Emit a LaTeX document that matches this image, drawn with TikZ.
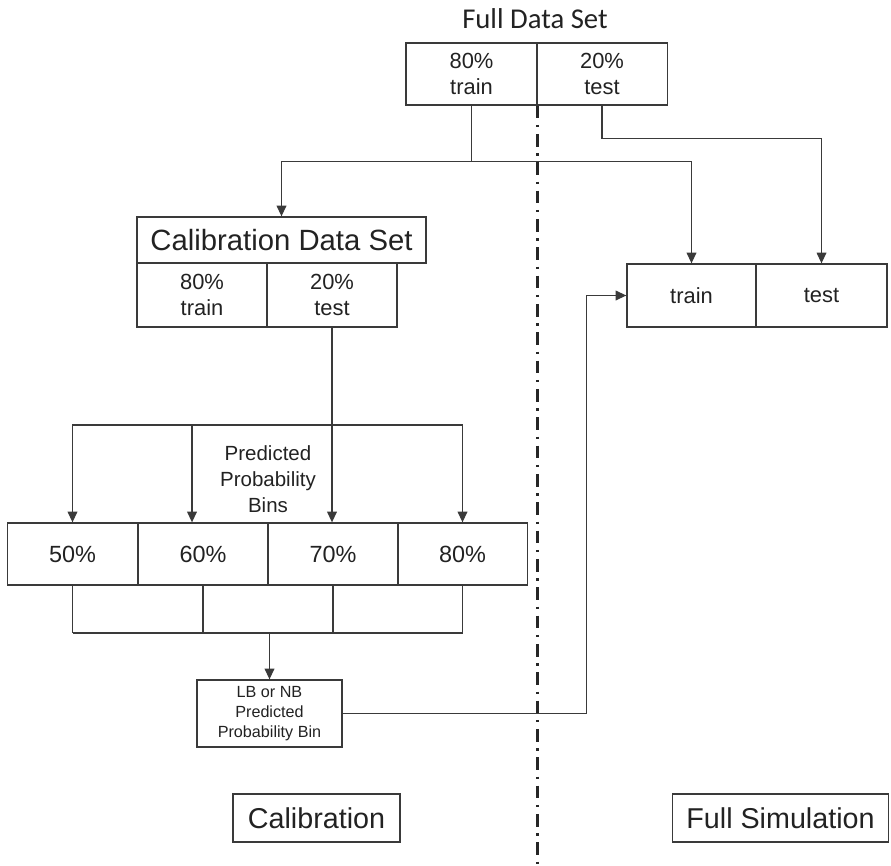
\documentclass[tikz,border=0pt]{standalone}
\usepackage{fontspec}
\setmainfont{Liberation Sans}
\newfontfamily\arialfont{Liberation Sans}
\newfontfamily\calibrifont{Carlito}
\usetikzlibrary{arrows.meta,calc}
\definecolor{linec}{HTML}{3A3A3A}
\definecolor{textc}{HTML}{222222}
\tikzset{
    cell/.style={draw=linec, line width=1.1pt, inner sep=0pt, align=center, text=textc, font=\arialfont\fontsize{18.7}{22.5}\selectfont},
    conn/.style={draw=linec, line width=1.1pt},
    arr/.style={conn, -{Triangle[length=3.2mm, width=2.9mm]}},
    titletext/.style={text=textc, font=\calibrifont\fontsize{24.5}{29}\selectfont},
    divider/.style={draw=black!85, line width=2.2pt, dash pattern=on 0.38cm off 0.2cm on 0.07cm off 0.2cm}
}
\begin{document}
\begin{tikzpicture}
\useasboundingbox (0,0) rectangle (26.73,-25.95);

% Full data set
\node[titletext] (full) at (16.05,-0.57) {Full Data Set};
\node[cell, minimum width=3.93cm, minimum height=1.86cm] (ftrain) at (14.145,-2.22) {80\%\\train};
\node[cell, minimum width=3.93cm, minimum height=1.86cm] (ftest)  at (18.06,-2.22)  {20\%\\test};

% Calibration data set
\node[cell, minimum width=8.67cm, minimum height=1.38cm, font=\arialfont\fontsize{25}{30}\selectfont] (calib) at (8.445,-7.2) {Calibration Data Set};
\node[cell, minimum width=3.9cm, minimum height=1.92cm] (ctrain) at (6.06,-8.85) {80\%\\train};
\node[cell, minimum width=3.9cm, minimum height=1.92cm] (ctest)  at (9.96,-8.85) {20\%\\test};

% Full simulation split
\node[cell, minimum width=3.87cm, minimum height=1.89cm] (strain) at (20.745,-8.865) {train};
\node[cell, minimum width=3.93cm, minimum height=1.89cm] (stest)  at (24.645,-8.865) {test};

% Predicted probability bins
\foreach \p/\x [count=\i] in {50/2.175, 60/6.09, 70/9.99, 80/13.875}
    \node[cell, minimum width=3.9cm, minimum height=1.86cm, font=\arialfont\fontsize{20}{24}\selectfont] (bin\i) at (\x,-16.62) {\p\%};
\node[align=center, text=textc, font=\arialfont\fontsize{17.5}{22}\selectfont] (bintitle) at (8.04,-14.37) {Predicted\\Probability\\Bins};

\node[cell, minimum width=4.35cm, minimum height=2.01cm, font=\arialfont\fontsize{13.8}{17}\selectfont] (pick) at (8.085,-21.405) {LB or NB\\Predicted\\Probability Bin};

% Part labels
\node[cell, minimum width=5.01cm, minimum height=1.44cm, font=\arialfont\fontsize{24.5}{29}\selectfont] (calpart) at (9.495,-24.54) {Calibration};
\node[cell, minimum width=6.48cm, minimum height=1.44cm, font=\arialfont\fontsize{24.5}{29}\selectfont] (simpart) at (23.415,-24.54) {Full Simulation};

% Connectors from the full data set
\coordinate (fj) at ($(ftrain.south)+(0,-1.68)$);
\coordinate (tj) at ($(ftest.south)+(0,-0.99)$);
\draw[conn] (ftrain.south) -- (fj);
\draw[arr] (fj) -| (calib.north);
\draw[arr] (fj) -| (strain.north);
\draw[arr] (ftest.south) -- (tj) -| (stest.north);

% Calibration test set into the bins
\coordinate (bj) at (9.96,-12.75);
\coordinate (bj2) at (5.76,-12.75);
\draw[arr] (ctest.south) -- (ctest.south |- bin3.north);
\draw[arr] (bj) -| (bin1.north);
\draw[arr] (bj) -| (bin4.north);
\draw[arr] (bj2) -- (bj2 |- bin2.north);

% Bins joined into the chosen bin
\coordinate (mj) at (8.085,-18.99);
\foreach \i in {1,...,4}
    \draw[conn] (bin\i.south) -- (bin\i.south |- mj);
\draw[conn] (bin1.south |- mj) -- (bin4.south |- mj);
\draw[arr] (mj) -- (pick.north);

% Chosen bin used in the full simulation
\coordinate (turn) at ($(strain.west)+(-1.2,0)$);
\draw[arr] (pick.east) -| (turn) -- (strain.west);

% Dividing line
\draw[divider] (ftrain.south east) -- (ftrain.south east |- 0,-25.95);
\end{tikzpicture}
\end{document}
